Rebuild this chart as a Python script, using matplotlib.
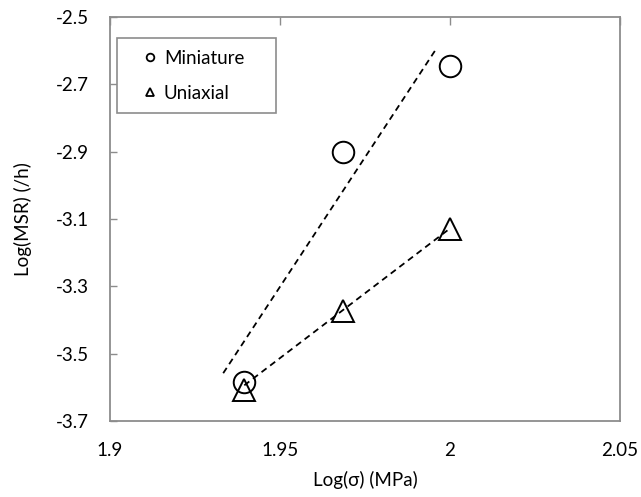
import numpy as np
import matplotlib
matplotlib.use("Agg")
import matplotlib.pyplot as plt
from matplotlib.lines import Line2D
from matplotlib.patches import Rectangle

plt.rcParams['font.family'] = ['Lato', 'DejaVu Sans']

# Data
series_names = ["Miniature", "Uniaxial"]
mini_x = [1.9393, 1.9686, 2.0]
mini_y = [-3.583, -2.900, -2.645]
uni_x = [1.9395, 1.9686, 2.0]
uni_y = [-3.608, -3.372, -3.129]
# dashed trend lines (end points)
mini_fit_x = [1.9333, 1.9956]
mini_fit_y = [-3.558, -2.600]
uni_fit_x = [1.9395, 2.0]
uni_fit_y = [-3.594, -3.128]
xticks = [1.9, 1.95, 2.0, 2.05]
xtick_labels = ["1.9", "1.95", "2", "2.05"]
yticks = [-3.7, -3.5, -3.3, -3.1, -2.9, -2.7, -2.5]
ytick_labels = ["-3.7", "-3.5", "-3.3", "-3.1", "-2.9", "-2.7", "-2.5"]

FS = 13.5
fig = plt.figure(figsize=(6.41, 4.97), dpi=100)
ax = fig.add_axes([110/641, 1-421/497, 510/641, 404/497])

for fx, fy in [(mini_fit_x, mini_fit_y), (uni_fit_x, uni_fit_y)]:
    ax.plot(fx, fy, color='black', ls=(0, (3.5, 2.5)), lw=1.3, zorder=2)

ax.plot(mini_x, mini_y, ls='none', marker='o', ms=15.5, mfc='none', mec='black', mew=1.4, zorder=3)
ax.plot(uni_x, uni_y, ls='none', marker='^', ms=15.5, mfc='none', mec='black', mew=1.4, zorder=3)

ax.set_xlim(1.9, 2.05)
ax.set_ylim(-3.7, -2.5)
ax.set_xticks(xticks)
ax.set_xticklabels(xtick_labels)
ax.set_yticks(yticks)
ax.set_yticklabels(ytick_labels)

for s in ax.spines.values():
    s.set_color('#8c8c8c')
    s.set_linewidth(1.3)

ax.tick_params(axis='y', direction='in', length=5, width=1, color='#8c8c8c', labelsize=FS, pad=15)
ax.tick_params(axis='x', direction='in', length=6, width=1, color='#8c8c8c', labelsize=FS, pad=15,
               top=True, bottom=False, labelbottom=True, labeltop=False)

ax.set_xlabel("Log(σ) (MPa)", fontsize=FS)
ax.set_ylabel("Log(MSR) (/h)", fontsize=FS)
ax.xaxis.set_label_coords(0.5, (421-471)/404)
ax.yaxis.set_label_coords((32-110)/510, 0.5)

# legend frame
ax.add_patch(Rectangle(((117-110)/510, (421-113)/404), 159/510, 75/404, transform=ax.transAxes,
                       facecolor='white', edgecolor='#8c8c8c', lw=1.2, zorder=4))
handles = [Line2D([], [], ls='none', marker='o', ms=5.5, mfc='none', mec='black', mew=1.3),
           Line2D([], [], ls='none', marker='^', ms=5.5, mfc='none', mec='black', mew=1.3)]
leg = ax.legend(handles, series_names, loc='upper left',
                bbox_to_anchor=((143.3-110)/510, (421-50)/404), borderaxespad=0, borderpad=0,
                frameon=False, fontsize=FS, handlelength=0.75, handletextpad=0.35, labelspacing=0.95)
leg.set_zorder(5)

fig.savefig("out.png", dpi=100)
